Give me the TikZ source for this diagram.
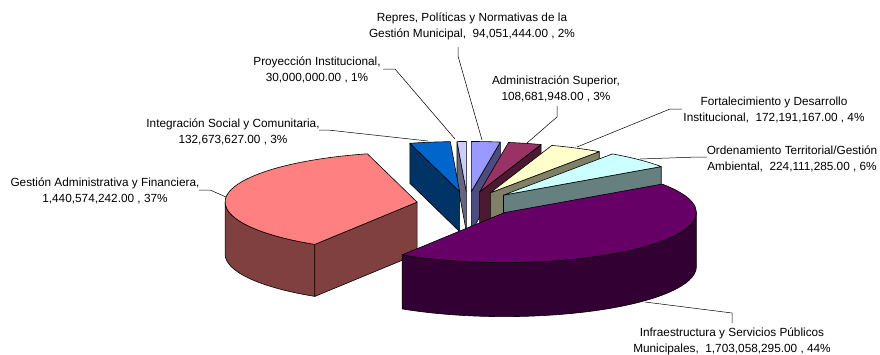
\documentclass[tikz,border=0pt]{standalone}
\usepackage{fontspec}
\setmainfont{Liberation Sans}
\definecolor{proyT}{HTML}{CCCCFF}\definecolor{proyS}{HTML}{666680}
\definecolor{integT}{HTML}{0066CC}\definecolor{integS}{HTML}{003366}
\definecolor{represT}{HTML}{9999FF}\definecolor{represS}{HTML}{4C4C80}
\definecolor{admT}{HTML}{993366}\definecolor{admS}{HTML}{4C1933}
\definecolor{fortT}{HTML}{FFFFCC}\definecolor{fortS}{HTML}{808066}
\definecolor{ordT}{HTML}{CCFFFF}\definecolor{ordS}{HTML}{668080}
\definecolor{infT}{HTML}{660066}\definecolor{infS}{HTML}{330033}
\definecolor{gestT}{HTML}{FF8080}\definecolor{gestS}{HTML}{804040}

\begin{document}
\begin{tikzpicture}[x=1pt,y=-1pt,
  face/.style={draw=black,line width=0.6pt,line join=round},
  lbl/.style={align=center,inner sep=0pt,font=\fontsize{11.8}{16}\selectfont},
  lead/.style={draw=black,line width=0.5pt}]
  \useasboundingbox (0,0) rectangle (880,354);

  % slices, back to front
  \path[face,fill=proyS] (466.3,191.5) -- ++(267.23:192 and 50) -- ++(0,40) -- (466.3,231.5) -- cycle;
  \path[face,fill=proyT] (466.3,191.5) -- ++(267.23:192 and 50) arc[start angle=267.23,end angle=270,x radius=192,y radius=50] -- cycle;

  \path[face,fill=integS] (459.6,191.6) -- ++(255:192 and 50) -- ++(0,40) -- (459.6,231.6) -- cycle;
  \path[face,fill=integT] (459.6,191.6) -- ++(255:192 and 50) arc[start angle=255,end angle=267.23,x radius=192,y radius=50] -- cycle;

  \path[face,fill=represS] (471.4,191.5) -- ++(-81.33:192 and 50) -- ++(0,40) -- (471.4,231.5) -- cycle;
  \path[face,fill=represT] (471.4,191.5) -- ++(-90:192 and 50) arc[start angle=-90,end angle=-81.33,x radius=192,y radius=50] -- cycle;

  \path[face,fill=admS] (479.6,191.9) -- ++(-71.31:192 and 50) -- ++(0,40) -- (479.6,231.9) -- cycle;
  \path[face,fill=admT] (479.6,191.9) -- ++(-81.33:192 and 50) arc[start angle=-81.33,end angle=-71.31,x radius=192,y radius=50] -- cycle;

  \path[face,fill=fortS] (490.3,192.8) -- ++(-55.44:192 and 50) -- ++(0,40) -- (490.3,232.8) -- cycle;
  \path[face,fill=fortT] (490.3,192.8) -- ++(-71.31:192 and 50) arc[start angle=-71.31,end angle=-55.44,x radius=192,y radius=50] -- cycle;

  \path[face,fill=ordS] (503.5,195.1) -- ++(-34.78:192 and 50) -- ++(0,40) -- (503.5,235.1) -- cycle;
  \path[face,fill=ordT] (503.5,195.1) -- ++(-55.44:192 and 50) arc[start angle=-55.44,end angle=-34.78,x radius=192,y radius=50] -- cycle;

  \path[face,fill=gestS] (417.1,202.1) -- ++(122.21:192 and 50) arc[start angle=122.21,end angle=180,x radius=192,y radius=50]
    -- ++(0,52) arc[start angle=180,end angle=122.21,x radius=192,y radius=50] -- cycle;
  \path[face,fill=gestS] (417.1,202.1) -- ++(122.21:192 and 50) -- ++(0,52) -- (417.1,254.1) -- cycle;
  \path[face,fill=gestT] (417.1,202.1) -- ++(122.21:192 and 50) arc[start angle=122.21,end angle=255,x radius=192,y radius=50] -- cycle;

  \path[face,fill=infS] (504.4,212.6) ++(0:192 and 50) arc[start angle=0,end angle=122.21,x radius=192,y radius=50]
    -- ++(0,54) arc[start angle=122.21,end angle=0,x radius=192,y radius=50] -- cycle;
  \path[face,fill=infT] (504.4,212.6) -- ++(-34.78:192 and 50) arc[start angle=-34.78,end angle=122.21,x radius=192,y radius=50] -- cycle;

  % labels
  \node[lbl] (repres) at (472,26) {Repres, Políticas y Normativas de la\\Gestión Municipal,~ 94,051,444.00 , 2\%};
  \node[lbl] (proy) at (317,70) {Proyección Institucional,\\30,000,000.00 , 1\%};
  \node[lbl] (integ) at (233,132) {Integración Social y Comunitaria,\\132,673,627.00 , 3\%};
  \node[lbl] (gest) at (105,191) {Gestión Administrativa y Financiera,\\1,440,574,242.00 , 37\%};
  \node[lbl] (adm) at (556,89) {Administración Superior,\\108,681,948.00 , 3\%};
  \node[lbl] (fort) at (774,110) {Fortalecimiento y Desarrollo\\Institucional,~ 172,191,167.00 , 4\%};
  \node[lbl] (ord) at (792,159) {Ordenamiento Territorial/Gestión\\Ambiental,~ 224,111,285.00 , 6\%};
  \node[lbl] (inf) at (732,341) {Infraestructura y Servicios Públicos\\Municipales,~ 1,703,058,295.00 , 44\%};

  % leader lines
  \coordinate (represK) at (458,47);  \coordinate (represB) at (458,56);  \coordinate (represE) at (482,140);
  \coordinate (proyK) at (383,69);    \coordinate (proyB) at (395,69);    \coordinate (proyE) at (455,139);
  \coordinate (integK) at (319,130);  \coordinate (integB) at (328,130);  \coordinate (integE) at (428,141);
  \coordinate (gestK) at (199,190);   \coordinate (gestB) at (210,190);   \coordinate (gestE) at (226,197);
  \coordinate (admK) at (557,106);    \coordinate (admB) at (557,117);    \coordinate (admE) at (527,143);
  \coordinate (fortK) at (682,109);   \coordinate (fortB) at (670,109);   \coordinate (fortE) at (577,147);
  \coordinate (ordK) at (707,157);    \coordinate (ordB) at (698,157);    \coordinate (ordE) at (640,159);
  \coordinate (infK) at (732,323);    \coordinate (infB) at (732,313);    \coordinate (infE) at (645,302);
  \draw[lead] (represK) -- (represB) -- (represE);
  \draw[lead] (proyK) -- (proyB) -- (proyE);
  \draw[lead] (integK) -- (integB) -- (integE);
  \draw[lead] (gestK) -- (gestB) -- (gestE);
  \draw[lead] (admK) -- (admB) -- (admE);
  \draw[lead] (fortK) -- (fortB) -- (fortE);
  \draw[lead] (ordK) -- (ordB) -- (ordE);
  \draw[lead] (infK) -- (infB) -- (infE);
\end{tikzpicture}
\end{document}
